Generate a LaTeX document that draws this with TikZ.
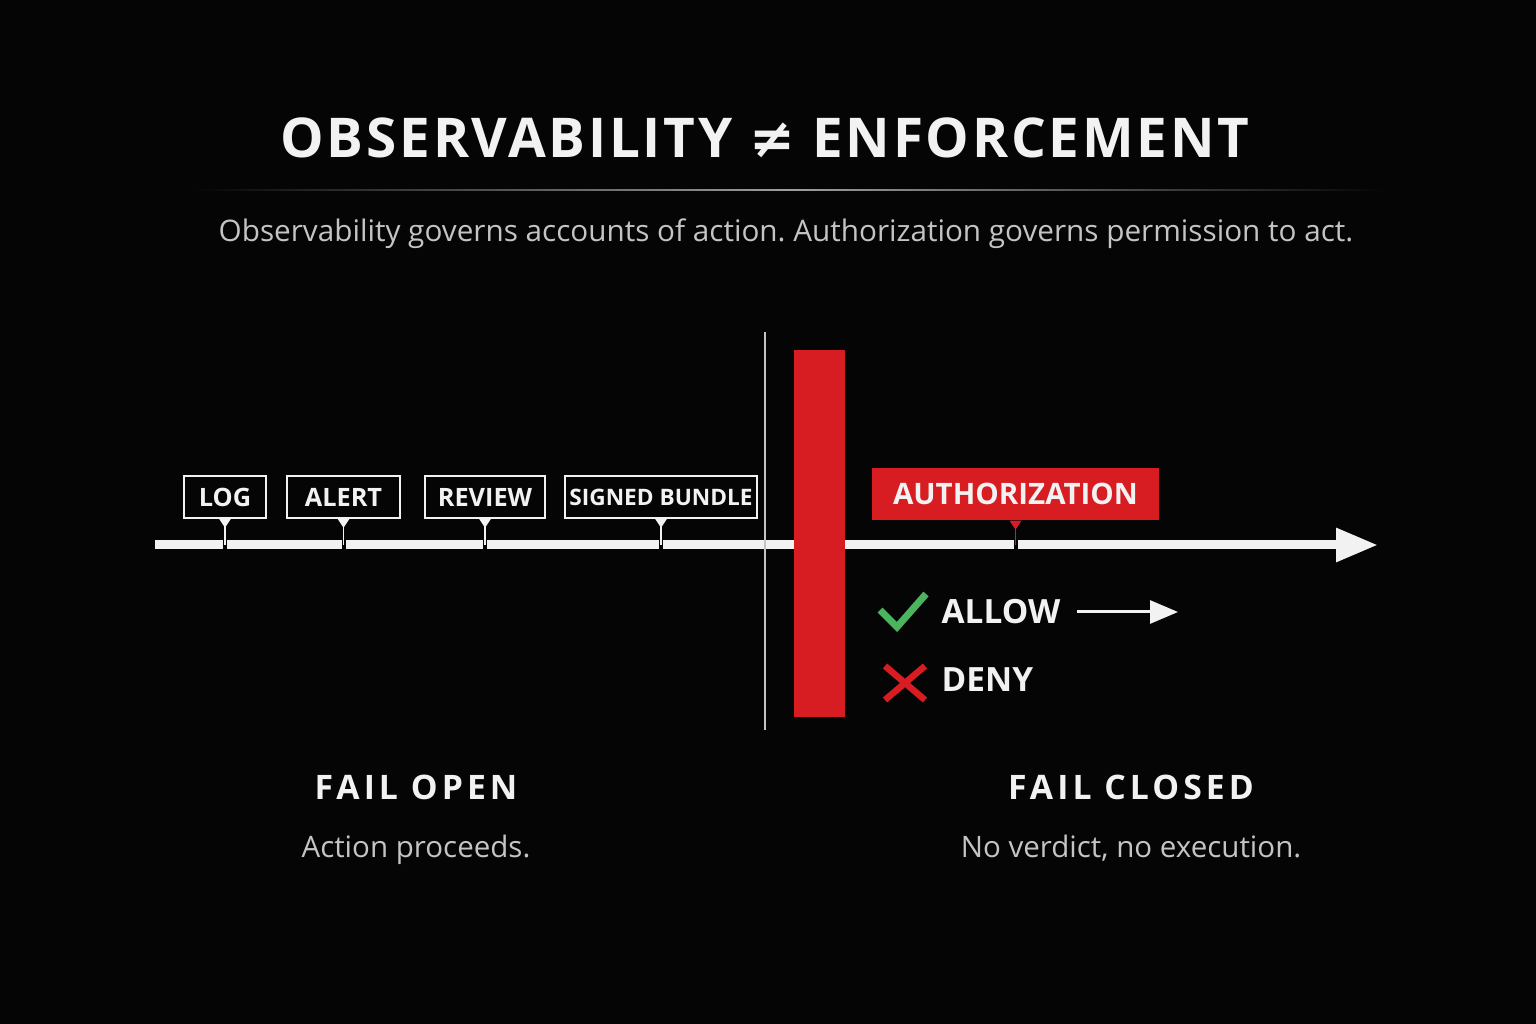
\documentclass[tikz,border=0pt]{standalone}
\usepackage{fontspec}
\setmainfont{Open Sans}
\newfontfamily\symfont{DejaVu Sans}
\usetikzlibrary{arrows.meta,positioning}

\definecolor{bgblack}{HTML}{050505}
\definecolor{gatered}{HTML}{D71C22}
\definecolor{okgreen}{HTML}{4CB35E}
\definecolor{softwhite}{HTML}{F2F2F2}
\definecolor{subgray}{HTML}{C4C4C4}

\newcommand{\titlefont}{\fontsize{15.6}{18}\selectfont\bfseries\addfontfeature{LetterSpace=5}}
\newcommand{\subfont}{\fontsize{8.45}{10}\selectfont}
\newcommand{\tagfont}{\fontsize{7.2}{8}\selectfont\bfseries}
\newcommand{\verdictfont}{\fontsize{9.5}{11}\selectfont\bfseries}
\newcommand{\failfont}{\fontsize{9.6}{11}\selectfont\bfseries\addfontfeature{LetterSpace=12}}
\newcommand{\capfont}{\fontsize{8.4}{10}\selectfont}

\tikzset{
  tagbox/.style={draw=softwhite, line width=0.15mm, fill=bgblack, text=softwhite,
    font=\tagfont, minimum height=4.2mm, inner sep=0pt},
  authbox/.style={fill=gatered, text=softwhite, font=\fontsize{8.4}{10}\selectfont\bfseries,
    minimum width=28.7mm, minimum height=5.2mm, inner sep=0pt},
  verdict/.style={font=\verdictfont, text=softwhite, anchor=west, inner sep=0pt},
  tickline/.style={line width=0.15mm},
  timeline/.style={softwhite, line width=0.9mm, -{Triangle[length=4.2mm, width=3.2mm]}},
  gap/.style={fill=bgblack, draw=none},
}

\begin{document}
\frenchspacing
\begin{tikzpicture}[x=0.1mm, y=-0.1mm]
  \fill[bgblack] (0,0) rectangle (1536,1024);
  \useasboundingbox (0,0) rectangle (1536,1024);

  % heading
  \node[font=\titlefont, text=softwhite] (title) at (765,138)
    {OBSERVABILITY {\symfont ≠} ENFORCEMENT};
  \shade[left color=bgblack, right color=bgblack, middle color=gray!75]
    (195,189.5) rectangle (1385,191);
  \node[font=\subfont, text=subgray] (subtitle) at (786,234)
    {Observability governs accounts of action. Authorization governs permission to act.};

  % timeline
  \coordinate (start) at (155,545);
  \coordinate (tip) at (1378,545);
  \draw[timeline] (start) -- (tip);

  % observation tags
  \node[tagbox, minimum width=8.2mm] (log) at (225,497) {LOG};
  \node[tagbox, minimum width=11.3mm] (alert) at (343.5,497) {ALERT};
  \node[tagbox, minimum width=12mm] (review) at (485,497) {REVIEW};
  \node[tagbox, minimum width=19.2mm, font=\fontsize{6.45}{8}\selectfont\bfseries]
    (bundle) at (661,497) {SIGNED BUNDLE};

  \foreach \t in {log,alert,review,bundle}{
    \fill[gap] ([xshift=-0.2mm]\t.south |- 0,540) rectangle ([xshift=0.2mm]\t.south |- 0,551);
    \fill[softwhite] ([xshift=-0.6mm]\t.south) -- ([xshift=0.6mm]\t.south)
      -- ([yshift=-0.9mm]\t.south) -- cycle;
    \draw[softwhite, tickline] (\t.south) -- (\t.south |- start);
  }

  % separator and gate
  \draw[subgray, line width=0.15mm] (765,332) -- (765,730);
  \node[fill=gatered, minimum width=5.1mm, minimum height=36.7mm, inner sep=0pt]
    (gate) at (819.5,533.5) {};

  % authorization
  \node[authbox] (auth) at (1015.5,494) {AUTHORIZATION};
  \fill[gap] ([xshift=-0.2mm]auth.south |- 0,540) rectangle ([xshift=0.2mm]auth.south |- 0,551);
  \fill[gatered] ([xshift=-0.6mm]auth.south) -- ([xshift=0.6mm]auth.south)
    -- ([yshift=-0.9mm]auth.south) -- cycle;
  \draw[gatered, tickline] (auth.south) -- (auth.south |- start);

  % verdicts
  \node[verdict] (allow) at (941,612) {ALLOW};
  \node[verdict] (deny) at (941,680) {DENY};
  \coordinate (allowend) at (1178,612);
  \draw[softwhite, line width=0.3mm, -{Triangle[length=2.8mm, width=2.3mm]}]
    ([xshift=1.6mm]allow.east) -- (allowend);
  \draw[okgreen, line width=0.7mm] (880,610) -- (897,627) -- (926,594);
  \draw[gatered, line width=0.65mm] (885,666) -- (925,700) (925,666) -- (885,700);

  % outcomes
  \node[font=\failfont, text=softwhite] (failopen) at (416,787) {FAIL OPEN};
  \node[font=\capfont, text=subgray, anchor=base] (proceeds) at (416,857) {Action proceeds.};
  \node[font=\failfont, text=softwhite] (failclosed) at (1131,787) {FAIL CLOSED};
  \node[font=\capfont, text=subgray, anchor=base] (noexec) at (1131,857) {No verdict, no execution.};
\end{tikzpicture}
\end{document}
